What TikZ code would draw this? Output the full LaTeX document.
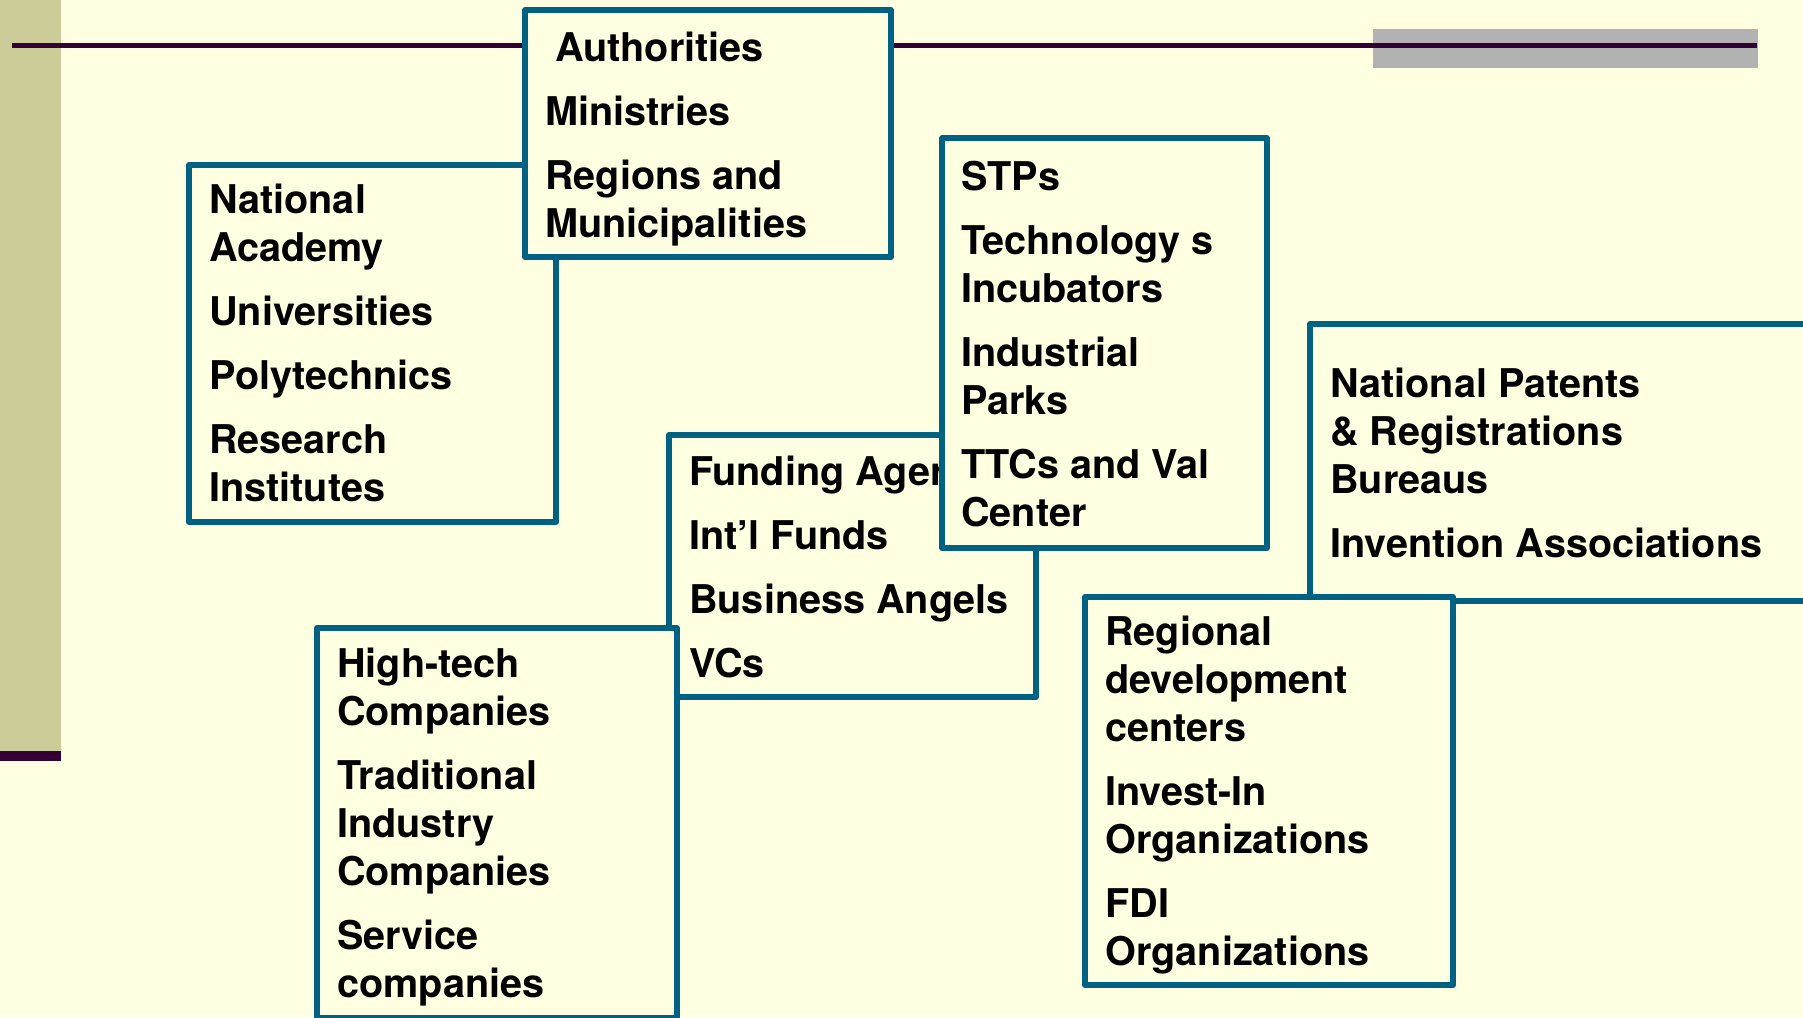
\documentclass[tikz,border=0pt]{standalone}
\usepackage{fontspec}
\setmainfont{TeX Gyre Heros}

\definecolor{paper}{RGB}{255,255,225}
\definecolor{bandcol}{RGB}{204,204,153}
\definecolor{plum}{RGB}{51,0,51}
\definecolor{barcol}{RGB}{178,178,178}
\definecolor{framecol}{RGB}{0,98,130}

\newcommand{\itemlist}[1]{\begin{tabular}[t]{@{}l@{}}#1\end{tabular}}

\tikzset{
	boxframe/.style={draw=framecol, fill=paper, line width=5.5pt, line join=round},
	boxtext/.style={anchor=base west, inner sep=0pt, font={\fontsize{39.6}{48}\selectfont\bfseries}}
}

\begin{document}
\begin{tikzpicture}[x=1pt, y=-1pt]
				\useasboundingbox (0,0) rectangle (1803,1017);
				\fill[paper] (0,0) rectangle (1803,1017);

				% left band and title rule
				\fill[bandcol] (0,0) rectangle (61,751);
				\fill[plum] (0,751) rectangle (61,761);
				\fill[barcol] (1373,29) rectangle (1758,68);
				\draw[plum, line width=5pt] (12,45.5) -- (1757,45.5);

				\draw[boxframe] (189,165) rectangle (556,522);
				\node[boxtext] (research) at (189+20,213) {\itemlist{National\\Academy\\[16pt]Universities\\[16pt]Polytechnics\\[16pt]Research\\Institutes}};

				\draw[boxframe] (525,10) rectangle (891,257);
				\node[boxtext] (govern) at (525+20,61) {\itemlist{\hspace{10pt}Authorities\\[16pt]Ministries\\[16pt]Regions and\\Municipalities}};

				\draw[boxframe] (669,435) rectangle (1036,697);
				\node[boxtext] (funds) at (669+20,485) {\itemlist{Funding Ager\\[16pt]Int’l Funds\\[16pt]Business Angels\\[16pt]VCs}};

				\draw[boxframe] (942,138) rectangle (1267,548);
				\node[boxtext] (parks) at (942+19,190) {\itemlist{STPs\\[16pt]Technology s\\Incubators\\[16pt]Industrial\\Parks\\[16pt]TTCs and Val\\Center}};

				\draw[boxframe] (317,628) rectangle (677,1018);
				\node[boxtext] (firms) at (317+20,677) {\itemlist{High-tech\\Companies\\[16pt]Traditional\\Industry\\Companies\\[16pt]Service\\companies}};

				\draw[boxframe] (1310,324) rectangle (1808,601);
				\node[boxtext] (patents) at (1310+20,397) {\itemlist{National Patents\\\& Registrations\\Bureaus\\[16pt]Invention Associations}};

				\draw[boxframe] (1085,597) rectangle (1453,985);
				\node[boxtext] (regions) at (1085+20,645) {\itemlist{Regional\\development\\centers\\[16pt]Invest-In\\Organizations\\[16pt]FDI\\Organizations}};
\end{tikzpicture}
\end{document}
